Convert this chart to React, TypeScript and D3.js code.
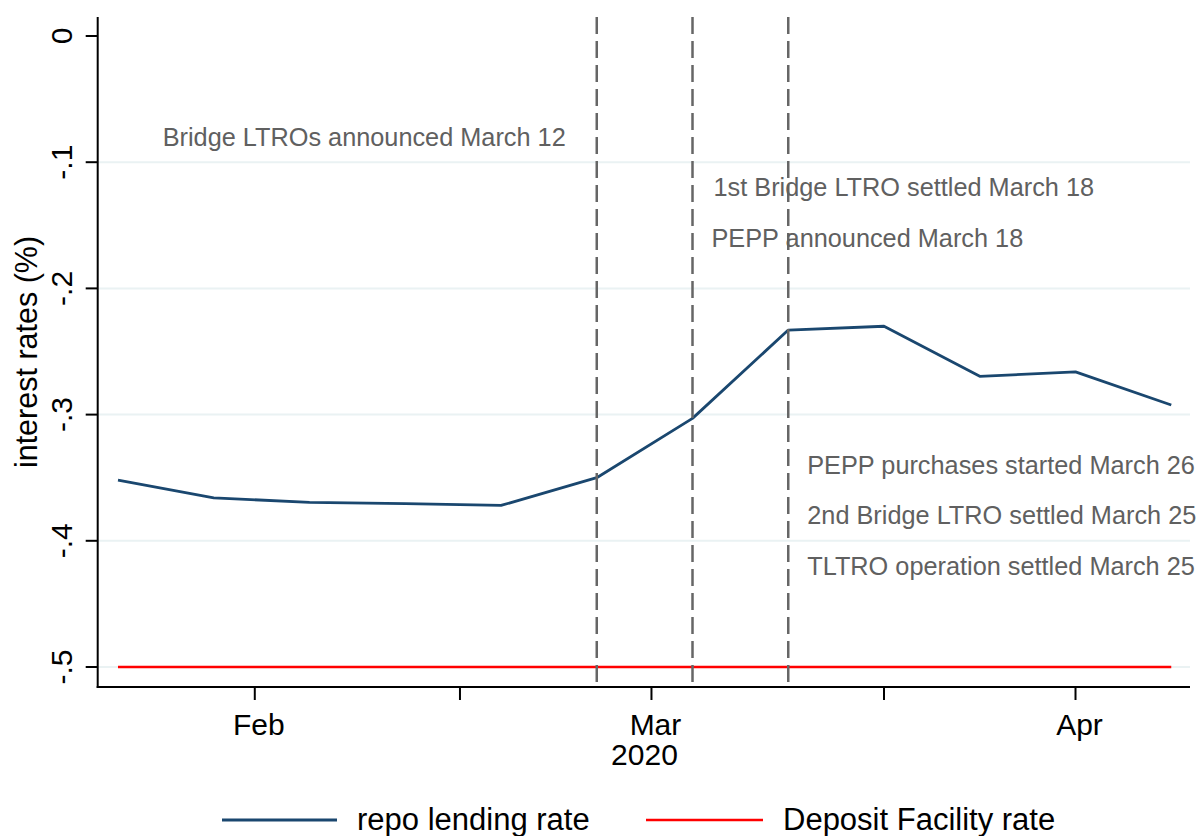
import React from "react";
import * as d3 from "d3";

// ---- data ----
const dates = [
  "2020-01-22", "2020-01-29", "2020-02-05", "2020-02-12", "2020-02-19", "2020-02-26",
  "2020-03-04", "2020-03-11", "2020-03-18", "2020-03-25", "2020-04-01", "2020-04-08",
];
const repoRate = [
  -0.352, -0.366, -0.3695, -0.3706, -0.372, -0.35,
  -0.303, -0.233, -0.230, -0.2697, -0.2662, -0.2924,
];
const depositRate = [-0.5, -0.5, -0.5, -0.5, -0.5, -0.5, -0.5, -0.5, -0.5, -0.5, -0.5, -0.5];

const yTicks = [0, -0.1, -0.2, -0.3, -0.4, -0.5];
const yTickLabels = ["0", "-.1", "-.2", "-.3", "-.4", "-.5"];
const yGrid = [-0.1, -0.2, -0.3, -0.4, -0.5];

const xTickDates = ["2020-02-01", "2020-02-16", "2020-03-01", "2020-03-18", "2020-04-01"];
const xTickLabels = [["Feb"], [], ["Mar", "2020"], [], ["Apr"]];

const eventDates = ["2020-02-26", "2020-03-04", "2020-03-11"];

const annotationTexts = [
  "Bridge LTROs announced March 12",
  "1st Bridge LTRO settled March 18",
  "PEPP announced March 18",
  "PEPP purchases started March 26",
  "2nd Bridge LTRO settled March 25",
  "TLTRO operation settled March 25",
];
const annotationDates = ["2020-02-26", "2020-03-04", "2020-03-04", "2020-03-11", "2020-03-11", "2020-03-11"];
const annotationValues = [-0.08, -0.12, -0.16, -0.34, -0.38, -0.42];
const annotationSides = ["left", "right", "right", "right", "right", "right"];

const seriesNames = ["repo lending rate", "Deposit Facility rate"];
const seriesColors = ["#1a476f", "#ff0000"];

// ---- layout ----
const W = 1200;
const H = 836;
const left = 97.7;
const right = 1190;
const top = 17;
const bottom = 687;
const DAY = 86400000;
const FONT = "'Liberation Sans', Arial, Helvetica, sans-serif";

const parse = (s: string) => new Date(s + "T00:00:00Z");

export default function App() {
  const base = parse("2020-01-22").getTime();
  const x = d3
    .scaleUtc()
    .domain([new Date(base - 1.484 * DAY), new Date(base + 78.37 * DAY)])
    .range([left, right]);
  const y = d3.scaleLinear().domain([-0.5, 0]).range([667, 36]);

  const pts = dates.map((d, i) => ({ d: parse(d), r: repoRate[i], dep: depositRate[i] }));
  const lineRepo = d3
    .line<{ d: Date; r: number; dep: number }>()
    .x((p) => x(p.d))
    .y((p) => y(p.r));
  const lineDep = d3
    .line<{ d: Date; r: number; dep: number }>()
    .x((p) => x(p.d))
    .y((p) => y(p.dep));

  return (
    <div style={{ position: "absolute", left: 0, top: 0 }}>
      <svg width={W} height={H} style={{ display: "block", background: "#fff" }} fontFamily={FONT}>
        <rect x={0} y={0} width={W} height={H} fill="#fff" />
        {/* gridlines */}
        {yGrid.map((v) => (
          <line key={"g" + v} x1={left} x2={right} y1={y(v)} y2={y(v)} stroke="#eaf2f3" strokeWidth={2} />
        ))}
        {/* series */}
        <path d={lineDep(pts) || ""} fill="none" stroke={seriesColors[1]} strokeWidth={2.6} />
        <path d={lineRepo(pts) || ""} fill="none" stroke={seriesColors[0]} strokeWidth={2.8} strokeLinejoin="round" />
        {/* event lines */}
        {eventDates.map((d) => (
          <line
            key={"e" + d}
            x1={x(parse(d))}
            x2={x(parse(d))}
            y1={top}
            y2={bottom}
            stroke="#666666"
            strokeWidth={2.5}
            strokeDasharray="17,7"
          />
        ))}
        {/* annotations */}
        {annotationTexts.map((t, i) => {
          const side = annotationSides[i];
          const xx = x(parse(annotationDates[i])) + (side === "left" ? -31 : i === 1 ? 21 : 19);
          return (
            <text
              key={"a" + i}
              x={xx}
              y={y(annotationValues[i])}
              dy="0.35em"
              fontSize={25.3}
              fill="#606060"
              textAnchor={side === "left" ? "end" : "start"}
            >
              {t}
            </text>
          );
        })}
        {/* axes */}
        <line x1={left} x2={left} y1={top} y2={bottom + 1} stroke="#000" strokeWidth={2} />
        <line x1={left - 1} x2={right} y1={bottom} y2={bottom} stroke="#000" strokeWidth={2} />
        {yTicks.map((v, i) => (
          <g key={"yt" + i}>
            <line x1={left - 12} x2={left} y1={y(v)} y2={y(v)} stroke="#000" strokeWidth={2} />
            <text
              transform={`translate(72,${y(v)}) rotate(-90)`}
              textAnchor="middle"
              fontSize={30}
              fill="#000"
            >
              {yTickLabels[i]}
            </text>
          </g>
        ))}
        {xTickDates.map((d, i) => {
          const xx = x(parse(d));
          return (
            <g key={"xt" + i}>
              <line x1={xx} x2={xx} y1={bottom} y2={bottom + 13} stroke="#000" strokeWidth={2} />
              {xTickLabels[i].map((lab, j) => (
                <text
                  key={j}
                  x={xx + (j === 0 ? 4 : -7)}
                  y={735 + j * 30}
                  textAnchor="middle"
                  fontSize={30}
                  fill="#000"
                >
                  {lab}
                </text>
              ))}
            </g>
          );
        })}
        <text
          transform={`translate(37,${(top + bottom) / 2}) rotate(-90)`}
          textAnchor="middle"
          fontSize={30.5}
          fill="#000"
        >
          interest rates (%)
        </text>
        {/* legend */}
        <line x1={222} x2={337} y1={820} y2={820} stroke={seriesColors[0]} strokeWidth={2.8} />
        <text x={357} y={830} fontSize={31} fill="#000">
          {seriesNames[0]}
        </text>
        <line x1={646} x2={763} y1={820} y2={820} stroke={seriesColors[1]} strokeWidth={2.6} />
        <text x={783} y={830} fontSize={31} fill="#000">
          {seriesNames[1]}
        </text>
      </svg>
    </div>
  );
}
